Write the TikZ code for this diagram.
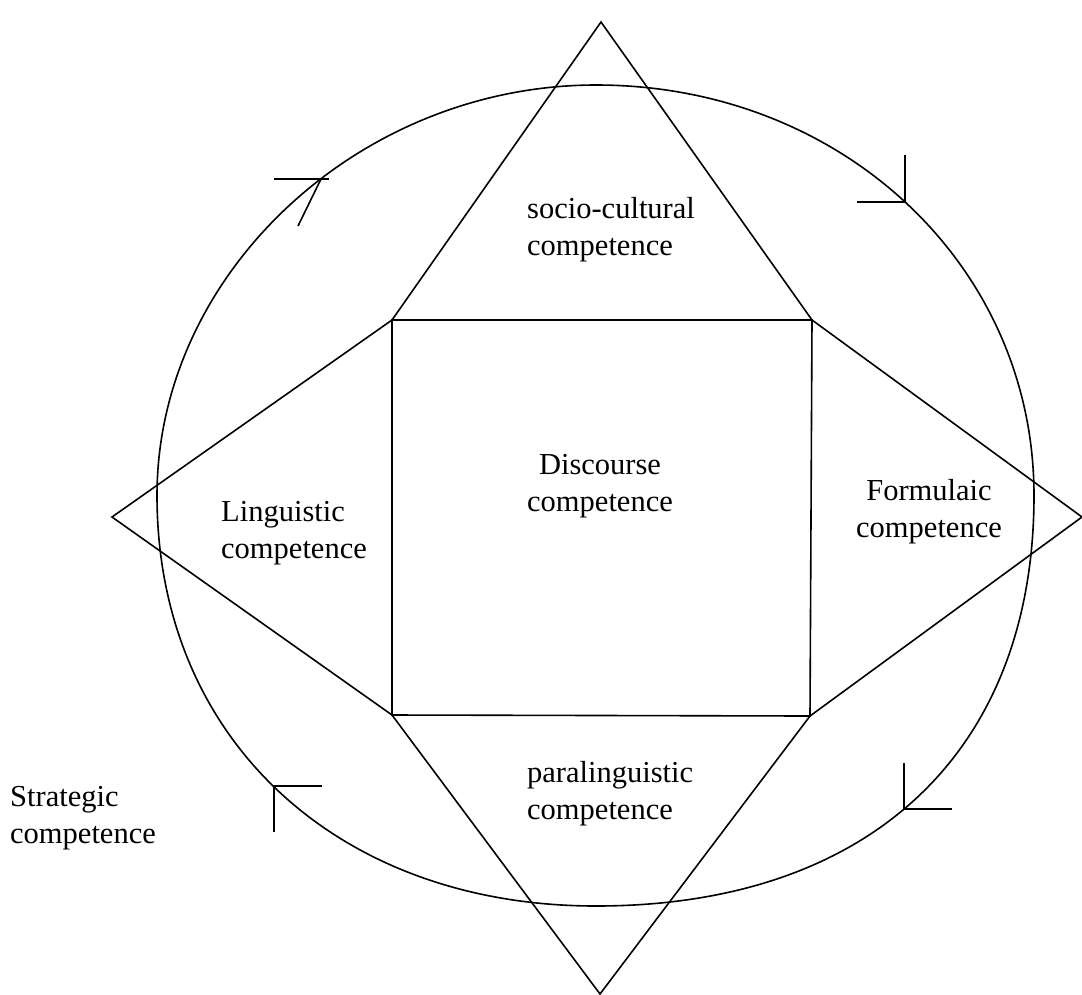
\documentclass[tikz,border=0pt]{standalone}
\usepackage{fontspec}
\setmainfont{Liberation Serif}
\begin{document}
\begin{tikzpicture}[x=1pt,y=-1pt,
  edge/.style={line width=1.6pt,line join=miter},
  lbl/.style={inner sep=0pt,font=\fontsize{30.5}{37}\selectfont}]
\useasboundingbox (0,0) rectangle (1082,994);
% outer closed curve (slightly irregular ellipse)
\coordinate (cR) at (1034,495.5);
\coordinate (cB) at (596,906);
\coordinate (cL) at (157,495.5);
\coordinate (cT) at (596,85);
\draw[edge] (cR) .. controls (1034,752.1) and (869.8,906) .. (cB)
  .. controls (336.7,906) and (157,738.5) .. (cL)
  .. controls (157,273.4) and (359,85) .. (cT)
  .. controls (841.7,85) and (1034,265.2) .. (cR) -- cycle;
% square corners
\coordinate (TL) at (392,320);
\coordinate (TR) at (812,320);
\coordinate (BR) at (810,716);
\coordinate (BL) at (392,715);
% diamond apexes
\coordinate (T) at (601,22);
\coordinate (B) at (600,994);
\coordinate (L) at (112,517);
\coordinate (R) at (1082,517);
\draw[edge] (TL) -- (TR) -- (BR) -- (BL) -- cycle;
\draw[edge] (TL) -- (T) -- (TR) -- (R) -- (BR) -- (B) -- (BL) -- (L) -- cycle;
% direction marks
\draw[edge] (274,179) -- (329,179);
\draw[edge] (321,179) -- (298,226);
\draw[edge] (905,155) -- (905,202) -- (857,202);
\draw[edge] (322,786) -- (274,786) -- (274,832);
\draw[edge] (904,763) -- (904,809) -- (952,809);
% labels
\node[lbl,anchor=base west] (soc) at (527,218) {\begin{tabular}[t]{@{}l@{}}socio-cultural\\competence\end{tabular}};
\node[lbl,anchor=base] (dis) at (600,474) {\begin{tabular}[t]{@{}c@{}}Discourse\\competence\end{tabular}};
\node[lbl,anchor=base west] (lin) at (221,521) {\begin{tabular}[t]{@{}l@{}}Linguistic\\competence\end{tabular}};
\node[lbl,anchor=base] (for) at (929,500) {\begin{tabular}[t]{@{}c@{}}Formulaic\\competence\end{tabular}};
\node[lbl,anchor=base west] (par) at (527,782) {\begin{tabular}[t]{@{}l@{}}paralinguistic\\competence\end{tabular}};
\node[lbl,anchor=base west] (str) at (10,806) {\begin{tabular}[t]{@{}l@{}}Strategic\\competence\end{tabular}};
\end{tikzpicture}
\end{document}
